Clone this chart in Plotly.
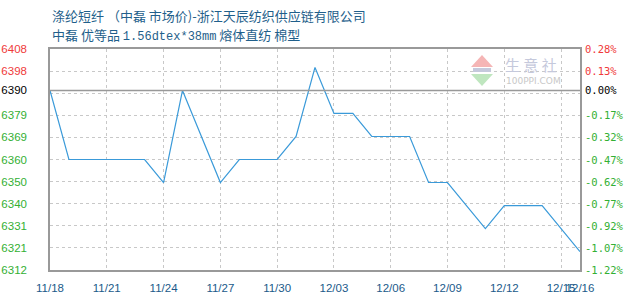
import plotly.graph_objects as go

YEAR = "2019"
# data (vertices of the price line)
dates = ["11/18", "11/19", "11/23", "11/24", "11/25", "11/27", "11/28", "11/30",
         "12/01", "12/02", "12/03", "12/04", "12/05", "12/07", "12/08", "12/09",
         "12/11", "12/12", "12/14", "12/16"]
prices = [6390, 6360, 6360, 6350, 6390, 6350, 6360, 6360,
          6370, 6400, 6380, 6380, 6370, 6370, 6350, 6350,
          6330, 6340, 6340, 6320]
base_price = 6390

x_ticks = ["11/18", "11/21", "11/24", "11/27", "11/30", "12/03", "12/06",
           "12/09", "12/12", "12/15", "12/16"]
grid_vals = [6312, 6321.6, 6331.2, 6340.8, 6350.4, 6360, 6369.6, 6379.2, 6388.8, 6398.4, 6408]
label_vals = [6312, 6321.6, 6331.2, 6340.8, 6350.4, 6360, 6369.6, 6379.2, 6390, 6398.4, 6408]
left_labels = ["6312", "6321", "6331", "6340", "6350", "6360", "6369", "6379", "6390", "6398", "6408"]
right_labels = ["-1.22%", "-1.07%", "-0.92%", "-0.77%", "-0.62%", "-0.47%", "-0.32%",
                "-0.17%", "0.00%", "0.13%", "0.28%"]

title1 = "涤纶短纤 （中磊 市场价)-浙江天辰纺织供应链有限公司"
title2_a = "中磊 优等品 "
title2_b = "1.56dtex*38mm"
title2_c = " 熔体直纺 棉型"

def d(s):
    m, dd = s.split("/")
    return f"{YEAR}-{m}-{dd}"

RED, GREEN, BLACK = "#f03a3a", "#33b033", "#000000"

def col(v):
    if abs(v - base_price) < 0.01:
        return BLACK
    return RED if v > base_price else GREEN

left_text = [f'<span style="color:{col(v)}">{t}</span>' for v, t in zip(label_vals, left_labels)]

W, H = 630, 300
L, R, T, B = 50, 50, 49, 30
PW, PH = W - L - R, H - T - B

def px(x):
    return (x - L) / PW

def py(y):
    return (H - B - y) / PH

fig = go.Figure()
fig.add_trace(go.Scatter(
    x=[d(s) for s in dates], y=prices, mode="lines",
    line=dict(color="#3a9ad9", width=1.2), hoverinfo="skip", showlegend=False,
))

yr = [grid_vals[0], grid_vals[-1]]
fig.update_layout(
    width=W, height=H,
    margin=dict(l=L, r=R, t=T, b=B, autoexpand=False),
    plot_bgcolor="white", paper_bgcolor="white",
    showlegend=False,
    xaxis=dict(
        type="date", range=[d(x_ticks[0]), d(x_ticks[-1])],
        tickvals=[d(s) for s in x_ticks], ticktext=x_ticks, tickangle=0,
        showgrid=True, gridcolor="#c8c8c8", griddash="3px,3px", gridwidth=1,
        showline=True, linecolor="#999999", linewidth=1.5, mirror=True,
        ticks="outside", ticklen=6, tickcolor="rgba(0,0,0,0)",
        tickfont=dict(family="Liberation Sans", size=11.5, color="#1a5a8a"),
        zeroline=False, automargin=False,
    ),
    yaxis=dict(
        range=yr, tickvals=label_vals, ticktext=left_text,
        showgrid=False,
        minor=dict(tickvals=grid_vals, showgrid=True, gridcolor="#c8c8c8",
                   griddash="3px,3px", gridwidth=1, ticks=""),
        showline=True, linecolor="#999999", linewidth=1.5, mirror=True,
        zeroline=False, automargin=False,
        ticks="outside", ticklen=19, tickcolor="rgba(0,0,0,0)",
        tickfont=dict(family="Liberation Sans", size=11.5),
    ),
)

# right-hand percentage labels
for v, t in zip(label_vals, right_labels):
    fig.add_annotation(xref="paper", yref="y", x=px(583), y=v, xanchor="left", yanchor="middle",
                       text=t, showarrow=False,
                       font=dict(family="DejaVu Sans Mono", size=10.5, color=col(v)))

# reference line at base price
fig.add_shape(type="line", xref="paper", x0=0, x1=1, yref="y", y0=base_price, y1=base_price,
              line=dict(color="#999999", width=1.5), layer="above")

# titles
fig.add_annotation(xref="paper", yref="paper", x=0, y=py(15), xanchor="left", yanchor="middle",
                   text=title1, showarrow=False,
                   font=dict(family="Noto Sans CJK SC", size=13, color="#1f5f8b"))
fig.add_annotation(xref="paper", yref="paper", x=0, y=py(34), xanchor="left", yanchor="middle",
                   text=title2_a + f'<span style="font-family:Liberation Mono;font-size:12px">{title2_b}</span>' + title2_c,
                   showarrow=False,
                   font=dict(family="Noto Sans CJK SC", size=13, color="#1f5f8b"))

# watermark
fig.add_annotation(xref="paper", yref="paper", x=px(531), y=py(64), xanchor="center", yanchor="middle",
                   text="生 意 社", showarrow=False,
                   font=dict(family="Noto Sans CJK SC", size=15, color="#c5c9dc"))
fig.add_annotation(xref="paper", yref="paper", x=px(533), y=py(81), xanchor="center", yanchor="middle",
                   text="100PPI.COM", showarrow=False,
                   font=dict(family="DejaVu Sans", size=9, color="#c8c8c8"))
fig.add_shape(type="path", xref="paper", yref="paper",
              path=f"M {px(482)} {py(55)} L {px(493)} {py(67)} L {px(471)} {py(67)} Z",
              fillcolor="#f5b5b5", line=dict(width=0), layer="above")
fig.add_shape(type="path", xref="paper", yref="paper",
              path=f"M {px(471)} {py(74)} L {px(493)} {py(74)} L {px(482)} {py(86)} Z",
              fillcolor="#bfe6bf", line=dict(width=0), layer="above")
fig.add_shape(type="rect", xref="paper", yref="paper",
              x0=px(473), x1=px(491), y0=py(72), y1=py(68),
              fillcolor="#c5c9dc", line=dict(width=0), layer="above")

fig.write_html("out.html")
